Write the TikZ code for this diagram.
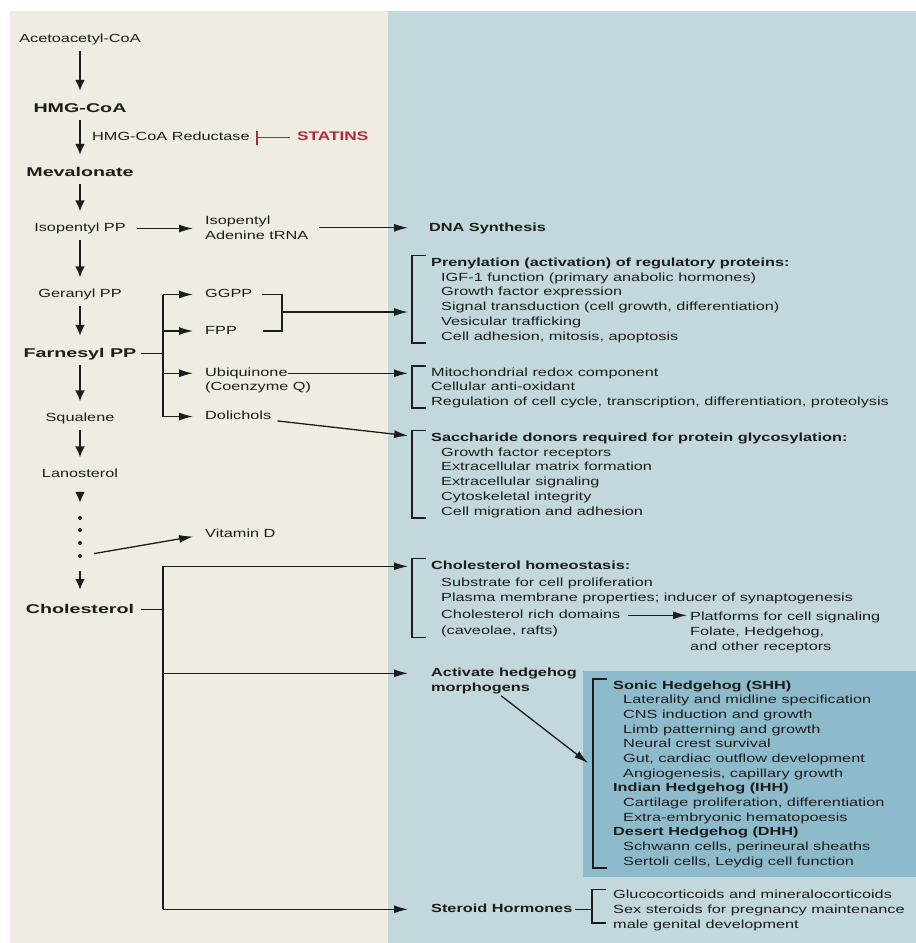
\documentclass[tikz,border=0pt]{standalone}
\usepackage{fontspec}
\setmainfont{Liberation Sans}[FakeStretch=1.38]
\newfontfamily\widesans{Liberation Sans}[FakeStretch=1.55]
\usepackage{xcolor}
\usepackage{tikz}
\usetikzlibrary{arrows.meta,calc}
\definecolor{cream}{RGB}{240,236,225}
\definecolor{slate}{RGB}{195,216,218}
\definecolor{hhblue}{RGB}{142,187,203}
\definecolor{statred}{RGB}{176,40,58}
\definecolor{ink}{RGB}{28,28,28}
\newcommand{\itm}{\hspace*{10pt}}
% bracket left of a list: [offset]{top node}{bottom node}
\newcommand{\sidebrk}[3][19pt]{%
  \draw[brk] ($(#2.north west)+(-#1+14pt,1.5pt)$) -- ++(-14pt,0)
    |- ($(#2.north west |- #3.south)+(-#1+14pt,0)$);}
\tikzset{
  met/.style={font=\fontsize{11.8}{14.8}\selectfont, inner sep=0pt, text height=9pt, text depth=3pt},
  keymet/.style={font=\widesans\bfseries\fontsize{12.7}{15}\selectfont, inner sep=0pt, text height=10pt, text depth=3pt, anchor=base},
  head/.style={met, font=\fontsize{11.8}{14.8}\selectfont\bfseries, anchor=base west},
  lst/.style={font=\fontsize{11.8}{14.8}\selectfont, inner sep=0pt, align=left, anchor=base west},
  dot/.style={circle, fill, inner sep=0pt, minimum size=4pt},
  vflow/.style={-{Latex[length=11pt,width=10pt]}, line width=2pt, shorten <=5pt, shorten >=11pt},
  hflow/.style={-{Latex[length=14pt,width=8pt]}, line width=1.3pt},
  link/.style={line width=1.3pt},
  brk/.style={line width=1.2pt},
  inhib/.style={-{Bar[width=14pt,line width=2.2pt]}, line width=1.6pt, draw=statred},
}
\begin{document}
\begin{tikzpicture}[x=1pt, y=-1pt, color=ink]
  \useasboundingbox (0,0) rectangle (916,943);
  % panels
  \fill[cream] (10,11) rectangle (388,943);
  \fill[slate] (388,11) rectangle (916,943);
  \fill[hhblue] (583,671) rectangle (916,877);
  % pathway (lists sit on the baseline of their last line)
  \node[met, anchor=base] (acac) at (80,42.5) {Acetoacetyl-CoA};
  \node[keymet] (hmg) at (80,112) {HMG-CoA};
  \node[met, anchor=base west] (hmgr) at (92,140.5) {HMG-CoA Reductase};
  \node[met, anchor=base west, font=\fontsize{12.5}{15}\selectfont\bfseries, text=statred] (statins) at (297,140.5) {STATINS};
  \node[keymet] (mev) at (80,176) {Mevalonate};
  \node[met, anchor=base] (ipp) at (80,231.5) {Isopentyl PP};
  \node[lst, font=\fontsize{11.8}{15}\selectfont] (iatrna) at (205,239.5) {Isopentyl\\Adenine tRNA};
  \node[met, anchor=base] (gpp) at (80,297.5) {Geranyl PP};
  \node[met, anchor=base west] (ggpp) at (205,297.5) {GGPP};
  \node[met, anchor=base west] (fpp) at (205,334) {FPP};
  \node[keymet] (farn) at (80,357) {Farnesyl PP};
  \node[met, anchor=base west] (ubi) at (205,376.3) {Ubiquinone};
  \node[met, anchor=base west] (coq) at (205,390.5) {(Coenzyme Q)};
  \node[met, anchor=base west] (dol) at (205,419.5) {Dolichols};
  \node[met, anchor=base] (squal) at (80,421.5) {Squalene};
  \node[met, anchor=base] (lano) at (80,477.5) {Lanosterol};
  \foreach \i/\y in {1/518,2/530,3/543,4/556}
    \node[dot] (d\i) at (80,\y) {};
  \node[met, anchor=base west] (vitd) at (205,537.5) {Vitamin D};
  \node[keymet] (chol) at (80,613) {Cholesterol};
  % outcomes
  \node[head] (dna) at (429,231.5) {DNA Synthesis};
  \node[head] (prehead) at (431,266.3) {Prenylation (activation) of regulatory proteins:};
  \node[lst] (preitems) at (441,340.3) {IGF-1 function (primary anabolic hormones)\\Growth factor expression\\Signal transduction (cell growth, differentiation)\\Vesicular trafficking\\Cell adhesion, mitosis, apoptosis};
  \node[lst, font=\fontsize{11.8}{14.5}\selectfont] (mito) at (431,405.3) {Mitochondrial redox component\\Cellular anti-oxidant\\Regulation of cell cycle, transcription, differentiation, proteolysis};
  \node[head] (sachead) at (431,441.3) {Saccharide donors required for protein glycosylation:};
  \node[lst] (sacitems) at (441,515.3) {Growth factor receptors\\Extracellular matrix formation\\Extracellular signaling\\Cytoskeletal integrity\\Cell migration and adhesion};
  \node[head] (chhead) at (431,569.3) {Cholesterol homeostasis:};
  \node[lst, font=\fontsize{11.8}{15.2}\selectfont] (chitems) at (441,601.5) {Substrate for cell proliferation\\Plasma membrane properties; inducer of synaptogenesis};
  \node[met, anchor=base west] (chrich) at (441,618.3) {Cholesterol rich domains};
  \node[met, anchor=base west] (caveo) at (441,634.3) {(caveolae, rafts)};
  \node[lst, font=\fontsize{11.8}{15}\selectfont] (platf) at (690,650.3) {Platforms for cell signaling\\Folate, Hedgehog,\\and other receptors};
  \node[head] (hh) at (431,676.3) {Activate hedgehog};
  \node[head] (hh2) at (431,691.3) {morphogens};
  \node[lst, font=\fontsize{11.8}{14.67}\selectfont] (hhlist) at (613,865.3) {\textbf{Sonic Hedgehog (SHH)}\\
    \itm Laterality and midline specification\\\itm CNS induction and growth\\\itm Limb patterning and growth\\
    \itm Neural crest survival\\\itm Gut, cardiac outflow development\\\itm Angiogenesis, capillary growth\\
    \textbf{Indian Hedgehog (IHH)}\\\itm Cartilage proliferation, differentiation\\\itm Extra-embryonic hematopoesis\\
    \textbf{Desert Hedgehog (DHH)}\\\itm Schwann cells, perineural sheaths\\\itm Sertoli cells, Leydig cell function};
  \node[head] (steroid) at (431,912.3) {Steroid Hormones};
  \node[lst, font=\fontsize{11.8}{15}\selectfont] (sterlist) at (613,928.3) {Glucocorticoids and mineralocorticoids\\Sex steroids for pregnancy maintenance\\male genital development};
  \coordinate (fork) at (163,352);
  \coordinate (gfjoin) at (282,312);
  \coordinate (cfork) at (163,608);
  \coordinate (hhtip) at (588,763);
  % brackets
  \sidebrk{prehead}{preitems}
  \sidebrk{mito}{mito}
  \sidebrk{sachead}{sacitems}
  \sidebrk{chhead}{caveo}
  \sidebrk[20pt]{hhlist}{hhlist}
  \draw[brk] ($(sterlist.north west)+(-7pt,0)$) -- ++(-14pt,0) |- ($(sterlist.south west)+(-7pt,8pt)$);
  % arrows
  \foreach \a/\b in {acac/hmg, hmg/mev, mev/ipp, ipp/gpp, gpp/farn, farn/squal, squal/lano}
    \draw[vflow] (\a) -- (\b);
  \draw[vflow, shorten <=12pt, shorten >=13pt] (lano) -- (d1);
  \draw[vflow, shorten <=13pt, shorten >=13pt] (d4) -- (chol);
  \draw[inhib, shorten <=7pt, shorten >=6pt] (statins) -- (hmgr);
  \draw[hflow, shorten <=11pt, shorten >=12pt] (ipp) -- (ipp -| iatrna.west);
  \draw[hflow, shorten <=10pt, shorten >=21pt] (iatrna) -- (iatrna -| dna.west);
  \draw[link, shorten <=4pt] (farn) -- (farn -| fork);
  \draw[link] (fork |- ggpp) -- (fork |- dol);
  \foreach \n in {ggpp,fpp,ubi,dol}
    \draw[hflow, shorten >=12pt] (fork |- \n) -- (\n);
  \draw[link] ([xshift=10pt]ggpp.east) -| (gfjoin) |- ([xshift=26pt]fpp.east);
  \draw[hflow, shorten >=23pt] (gfjoin) -- (gfjoin -| prehead.west);
  \draw[hflow, shorten >=23pt] (ubi) -- (ubi -| mito.west);
  \draw[hflow, shorten <=6pt, shorten >=23pt] (dol) -- (sachead.west);
  \draw[hflow, shorten <=12pt, shorten >=12pt] (d4) -- (vitd.west);
  \draw[link, shorten <=7pt] (chol) -- (chol -| cfork);
  \draw[link] (cfork |- chhead) -- (cfork |- steroid);
  \foreach \n in {chhead,hh,steroid}
    \draw[hflow, shorten >=23pt] (cfork |- \n) -- (\n.west);
  \draw[hflow, shorten <=7pt, shorten >=3pt] (chrich) -- (chrich -| platf.west);
  \draw[hflow, shorten <=2pt] ([xshift=19pt]hh2.south) -- (hhtip);
  \draw[link, shorten <=2pt, shorten >=21pt] (steroid) -- (steroid -| sterlist.west);
\end{tikzpicture}
\end{document}
